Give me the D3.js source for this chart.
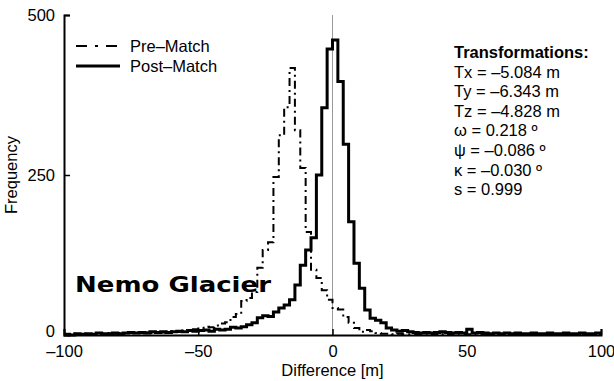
<!DOCTYPE html>
<html>
<head>
<meta charset="utf-8">
<script src="https://cdn.jsdelivr.net/npm/d3@7"></script>
<style>
  body { margin: 0; background: #fff; }
  svg text { fill: #000; }
</style>
</head>
<body>
<script>
// histogram bins: 2 m wide, left edges from -100 to 98
const binStart = -100
const binWidth = 2

// Pre-Match counts (per bin, left to right)
const preMatch = [
  0, 1, 2, 1, 2, 2, 3, 2, 3, 2,
  3, 2, 4, 3, 3, 4, 3, 5, 4, 5,
  6, 5, 7, 8, 9, 10, 13, 12, 15, 18,
  20, 28, 33, 53, 58, 67, 105, 133, 145, 247,
  312, 356, 417, 320, 261, 161, 102, 89, 70, 55,
  42, 40, 28, 19, 11, 5, 8, 6, 3, 2,
  2, 1, 2, 1, 1, 1, 1, 0, 1, 0,
  1, 0, 1, 0, 0, 1, 0, 0, 1, 0,
  0, 1, 0, 0, 0, 1, 0, 0, 0, 1,
  0, 0, 0, 1, 0, 0, 0, 0, 1, 0
]

// Post-Match counts
const postMatch = [
  1, 0, 2, 1, 2, 1, 3, 2, 2, 3,
  2, 3, 4, 3, 4, 3, 5, 4, 5, 4,
  5, 6, 5, 7, 6, 7, 8, 6, 9, 8,
  9, 12, 11, 13, 16, 19, 27, 30, 29, 36,
  42, 47, 55, 78, 109, 133, 152, 250, 355, 447,
  461, 396, 298, 177, 112, 73, 39, 26, 23, 19,
  11, 8, 6, 7, 5, 4, 3, 4, 3, 4,
  5, 4, 3, 4, 3, 9, 3, 4, 3, 2,
  3, 2, 3, 2, 3, 2, 2, 3, 2, 2,
  3, 2, 2, 3, 2, 2, 3, 2, 2, 3
]

const xTicks = [-100, -50, 0, 50, 100]
const yTicks = [0, 250, 500]
const legendLabels = ['Pre\u2013Match', 'Post\u2013Match']
const transformLines = [
  'Tx = \u20135.084 m',
  'Ty = \u20136.343 m',
  'Tz = \u20134.828 m',
  '\u03c9 = 0.218 \u00ba',
  '\u03c8 = \u20130.086 \u00ba',
  '\u03ba = \u20130.030 \u00ba',
  's = 0.999'
]

const width = 614
const height = 381
const margin = { left: 64, right: 13, top: 15, bottom: 46 }
const sans = '"Liberation Sans", Arial, sans-serif'

const svg = d3.select('body').append('svg').attr('width', width).attr('height', height)

const x = d3.scaleLinear().domain([-100, 100]).range([margin.left, width - margin.right])
const y = d3.scaleLinear().domain([0, 500]).range([height - margin.bottom, margin.top])

// zero line
svg.append('line')
  .attr('x1', x(0)).attr('x2', x(0))
  .attr('y1', y(500)).attr('y2', y(0))
  .attr('stroke', '#999').attr('stroke-width', 1)

// step path from counts
function stepPoints(counts) {
  const pts = counts.map((c, i) => [binStart + i * binWidth, c])
  pts.push([binStart + counts.length * binWidth, counts[counts.length - 1]])
  return pts
}
const line = d3.line().x((d) => x(d[0])).y((d) => y(d[1])).curve(d3.curveStepAfter)

svg.append('path')
  .attr('d', line(stepPoints(preMatch)))
  .attr('fill', 'none').attr('stroke', '#000').attr('stroke-width', 2)
  .attr('stroke-dasharray', '8,4,2,4')

svg.append('path')
  .attr('d', line(stepPoints(postMatch)))
  .attr('fill', 'none').attr('stroke', '#000').attr('stroke-width', 3)
  .attr('stroke-linejoin', 'miter')

// axes
const xAxis = d3.axisBottom(x).tickValues(xTicks).tickSize(-6).tickPadding(10)
  .tickFormat((d) => String(d).replace('-', '\u2013'))
const gx = svg.append('g').attr('transform', `translate(0,${y(0)})`).call(xAxis)
gx.select('.domain').attr('stroke-width', 2)
gx.selectAll('.tick line').attr('stroke-width', 1.5)
gx.selectAll('text').style('font-size', '16.5px').style('font-family', sans)

const yAxis = d3.axisLeft(y).tickValues(yTicks).tickSize(-6).tickPadding(9)
const gy = svg.append('g').attr('transform', `translate(${x(-100)},0)`).call(yAxis)
gy.select('.domain').attr('stroke-width', 2)
gy.selectAll('.tick line').attr('stroke-width', 1.5)
gy.selectAll('text').style('font-size', '16.5px').style('font-family', sans)
  .attr('dy', (d) => (d === 0 ? '0.1em' : '0.32em'))

// axis titles
svg.append('text')
  .attr('x', x(0)).attr('y', 376)
  .attr('text-anchor', 'middle')
  .style('font-size', '16.5px').style('font-family', sans)
  .text('Difference [m]')
svg.append('text')
  .attr('transform', `translate(17,${y(250)}) rotate(-90)`)
  .attr('text-anchor', 'middle')
  .style('font-size', '16.5px').style('font-family', sans)
  .text('Frequency')

// legend
const legend = svg.append('g').attr('transform', 'translate(76,46)')
legendLabels.forEach((label, i) => {
  const g = legend.append('g').attr('transform', `translate(0,${i * 20})`)
  g.append('line')
    .attr('x1', 0).attr('x2', 44).attr('y1', 0).attr('y2', 0)
    .attr('stroke', '#000')
    .attr('stroke-width', i === 0 ? 2 : 3)
    .attr('stroke-dasharray', i === 0 ? '11,8,3,8' : null)
  g.append('text')
    .attr('x', 54).attr('y', 6)
    .style('font-size', '16.5px').style('font-family', sans)
    .text(label)
})

// glacier name (wide bold face, stretched to match)
svg.append('text')
  .attr('x', 75).attr('y', 292)
  .attr('textLength', 196).attr('lengthAdjust', 'spacingAndGlyphs')
  .style('font-family', '"DejaVu Sans", Verdana, sans-serif')
  .style('font-weight', 'bold').style('font-size', '21px')
  .text('Nemo Glacier')

// transformations
const tr = svg.append('g').attr('transform', 'translate(454,58)')
tr.append('text')
  .style('font-weight', 'bold').style('font-size', '16.5px').style('font-family', sans)
  .text('Transformations:')
transformLines.forEach((t, i) => {
  tr.append('text')
    .attr('y', 19.6 * (i + 1))
    .style('font-size', '16.5px').style('font-family', sans)
    .text(t)
})
</script>
</body>
</html>
